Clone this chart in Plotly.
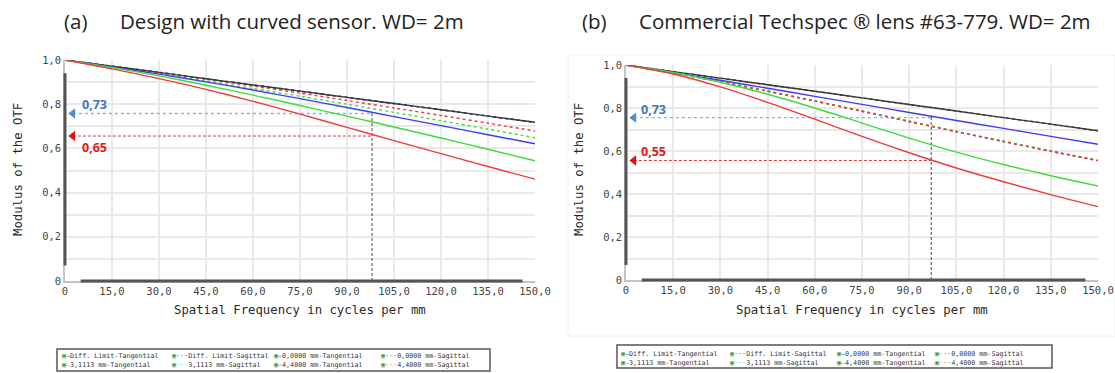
import plotly.graph_objects as go

W, H = 1115, 373

freq = [0, 15, 30, 45, 60, 75, 90, 105, 120, 135, 150]
x_tick_labels = ["0", "15,0", "30,0", "45,0", "60,0", "75,0", "90,0", "105,0", "120,0", "135,0", "150,0"]
y_tick_vals = [0, 0.2, 0.4, 0.6, 0.8, 1.0]
y_tick_labels = ["0", "0,2", "0,4", "0,6", "0,8", "1,0"]
y_minor_vals = [0.1, 0.3, 0.5, 0.7, 0.9]

series_names = ["Diff. Limit-Tangential", "Diff. Limit-Sagittal",
                "0,0000 mm-Tangential", "0,0000 mm-Sagittal",
                "3,1113 mm-Tangential", "3,1113 mm-Sagittal",
                "4,4000 mm-Tangential", "4,4000 mm-Sagittal"]

# Panel (a): design with curved sensor
a_dl_t = [1.0, 0.972, 0.944, 0.915, 0.887, 0.859, 0.831, 0.803, 0.775, 0.746, 0.718]
a_dl_s = [1.0, 0.972, 0.944, 0.915, 0.887, 0.859, 0.831, 0.803, 0.775, 0.746, 0.718]
a_f0_t = [1.0, 0.969, 0.936, 0.901, 0.864, 0.825, 0.785, 0.744, 0.703, 0.662, 0.621]
a_f0_s = [1.0, 0.972, 0.944, 0.915, 0.887, 0.859, 0.831, 0.803, 0.775, 0.746, 0.718]
a_f3_t = [1.0, 0.966, 0.928, 0.886, 0.841, 0.794, 0.746, 0.697, 0.647, 0.596, 0.544]
a_f3_s = [1.0, 0.970, 0.938, 0.905, 0.871, 0.836, 0.800, 0.763, 0.725, 0.687, 0.648]
a_f4_t = [1.0, 0.960, 0.916, 0.867, 0.813, 0.755, 0.695, 0.635, 0.576, 0.518, 0.461]
a_f4_s = [1.0, 0.972, 0.943, 0.913, 0.882, 0.850, 0.817, 0.783, 0.749, 0.714, 0.679]

# Panel (b): commercial lens
b_dl_t = [1.0, 0.969, 0.939, 0.908, 0.878, 0.847, 0.816, 0.786, 0.755, 0.725, 0.694]
b_dl_s = [1.0, 0.969, 0.939, 0.908, 0.878, 0.847, 0.816, 0.786, 0.755, 0.725, 0.694]
b_f0_t = [1.0, 0.964, 0.929, 0.892, 0.854, 0.817, 0.779, 0.742, 0.705, 0.668, 0.631]
b_f0_s = [1.0, 0.963, 0.922, 0.878, 0.832, 0.785, 0.737, 0.690, 0.644, 0.599, 0.555]
b_f3_t = [1.0, 0.965, 0.920, 0.864, 0.800, 0.730, 0.660, 0.595, 0.537, 0.485, 0.437]
b_f3_s = [1.0, 0.964, 0.924, 0.880, 0.834, 0.787, 0.739, 0.692, 0.646, 0.601, 0.557]
b_f4_t = [1.0, 0.958, 0.898, 0.826, 0.748, 0.668, 0.592, 0.521, 0.457, 0.397, 0.341]
b_f4_s = [1.0, 0.963, 0.922, 0.878, 0.832, 0.785, 0.737, 0.690, 0.644, 0.599, 0.555]

# Reading guides
a_cut_freq, a_blue_level, a_red_level = 98, 0.758, 0.656
b_cut_freq, b_blue_level, b_red_level = 97, 0.755, 0.556
arrow_freq = 2.5
a_labels = ["0,73", "0,65"]
b_labels = ["0,73", "0,55"]

# ---------------------------------------------------------------- styles
C_BLACK = "#3a3a3a"
C_BLUE = "#3c3cf0"
C_GREEN = "#3ddc3d"
C_RED = "#ee3b3b"
series_colors = [C_BLACK, C_BLACK, C_BLUE, C_BLUE, C_GREEN, C_GREEN, C_RED, C_RED]
series_dash = ["solid", "dot"] * 4
GUIDE_BLUE = "#86b3e2"
ARROW_BLUE = "#4f8fd0"
TEXT_BLUE = "#3b78c0"
GUIDE_RED = "#e63030"
TEXT_RED = "#e01a1a"
MONO = "DejaVu Sans Mono"

fig = go.Figure()

panels = [
    ("x", "y", [a_dl_t, a_dl_s, a_f0_t, a_f0_s, a_f3_t, a_f3_s, a_f4_t, a_f4_s],
     a_cut_freq, a_blue_level, a_red_level, a_labels, (9.3, 0.80), (9.3, 0.602)),
    ("x2", "y2", [b_dl_t, b_dl_s, b_f0_t, b_f0_s, b_f3_t, b_f3_s, b_f4_t, b_f4_s],
     b_cut_freq, b_blue_level, b_red_level, b_labels, (8.6, 0.792), (8.6, 0.60)),
]

for xa, ya, series, cut, blvl, rlvl, labels, bpos, rpos in panels:
    fig.add_trace(go.Scatter(x=[arrow_freq, cut], y=[blvl, blvl], mode="lines", xaxis=xa, yaxis=ya,
                             line=dict(color=GUIDE_BLUE, width=1.4, dash="dot"), showlegend=False,
                             hoverinfo="skip"))
    fig.add_trace(go.Scatter(x=[arrow_freq, cut], y=[rlvl, rlvl], mode="lines", xaxis=xa, yaxis=ya,
                             line=dict(color=GUIDE_RED, width=1.0, dash="3px,2px"), showlegend=False,
                             hoverinfo="skip"))
    fig.add_trace(go.Scatter(x=[cut, cut], y=[0, blvl + 0.005], mode="lines", xaxis=xa, yaxis=ya,
                             line=dict(color="#333333", width=0.9, dash="3px,2px"), showlegend=False,
                             hoverinfo="skip"))
    order = [1, 3, 5, 7, 0, 2, 4, 6]
    for i in order:
        fig.add_trace(go.Scatter(x=freq, y=series[i], mode="lines", xaxis=xa, yaxis=ya,
                                 name=series_names[i], showlegend=False,
                                 line=dict(color=series_colors[i], width=1.4, dash=series_dash[i],
                                           shape="spline", smoothing=0.8)))
    fig.add_trace(go.Scatter(x=[arrow_freq], y=[blvl], mode="markers", xaxis=xa, yaxis=ya,
                             marker=dict(symbol="triangle-left", size=9, color=ARROW_BLUE),
                             showlegend=False, hoverinfo="skip"))
    fig.add_trace(go.Scatter(x=[arrow_freq], y=[rlvl], mode="markers", xaxis=xa, yaxis=ya,
                             marker=dict(symbol="triangle-left", size=9, color="#e01010"),
                             showlegend=False, hoverinfo="skip"))
    fig.add_annotation(x=bpos[0], y=bpos[1], xref=xa, yref=ya, text="<b>" + labels[0] + "</b>",
                       showarrow=False, font=dict(family="Open Sans", size=12.5, color=TEXT_BLUE))
    fig.add_annotation(x=rpos[0], y=rpos[1], xref=xa, yref=ya, text="<b>" + labels[1] + "</b>",
                       showarrow=False, font=dict(family="Open Sans", size=12.5, color=TEXT_RED))

axis_common_x = dict(range=[0, 150], tickmode="array", tickvals=freq, ticktext=x_tick_labels,
                     showgrid=True, gridcolor="#e9e9e9", gridwidth=1.5, zeroline=False,
                     showline=True, linecolor="#c4c4c4", linewidth=1.5, ticks="", automargin=False,
                     tickfont=dict(family=MONO, size=10.5, color="#444"))
axis_common_y = dict(range=[0, 1], tickmode="array", tickvals=y_tick_vals, ticktext=y_tick_labels,
                     showgrid=True, gridcolor="#e9e9e9", gridwidth=1.5, zeroline=False,
                     showline=True, linecolor="#c4c4c4", linewidth=1.5, ticks="", automargin=False,
                     minor=dict(tickvals=y_minor_vals, showgrid=True, gridcolor="#e9e9e9", gridwidth=1.5),
                     tickfont=dict(family=MONO, size=10.5, color="#444"))

fig.update_layout(
    width=W, height=H, margin=dict(l=0, r=0, t=0, b=0, autoexpand=False),
    paper_bgcolor="white", plot_bgcolor="white", showlegend=False,
    xaxis=dict(domain=[65 / W, 535 / W], anchor="y", **axis_common_x),
    yaxis=dict(domain=[1 - 281 / H, 1 - 60 / H], anchor="x", **axis_common_y),
    xaxis2=dict(domain=[626 / W, 1098 / W], anchor="y2", **axis_common_x),
    yaxis2=dict(domain=[1 - 280 / H, 1 - 65 / H], anchor="x2", **axis_common_y),
)

# dark axis segments
for xa, ya in [("x", "y"), ("x2", "y2")]:
    fig.add_shape(type="line", xref=xa + " domain", yref=ya, x0=0, x1=0, y0=0.07, y1=0.94,
                  line=dict(color="#555555", width=3))
    fig.add_shape(type="line", xref=xa, yref=ya + " domain", x0=5, x1=146, y0=0, y1=0,
                  line=dict(color="#555555", width=3))

# faint frame of right image
fig.add_shape(type="rect", xref="paper", yref="paper", x0=568 / W, x1=1.0, y0=1 - 336 / H, y1=1 - 55 / H,
              line=dict(color="#f0f0f0", width=1), layer="below")

# axis titles
axis_title_font = dict(family=MONO, size=12.3, color="#2a2a2a")
for cx in [300, 862]:
    fig.add_annotation(x=cx / W, y=1 - 310 / H, xref="paper", yref="paper",
                       text="Spatial Frequency in cycles per mm", showarrow=False,
                       xanchor="center", yanchor="middle", font=axis_title_font)
for cx in [18, 579]:
    fig.add_annotation(x=cx / W, y=1 - 170 / H, xref="paper", yref="paper",
                       text="Modulus of the OTF", showarrow=False, textangle=-90,
                       xanchor="center", yanchor="middle", font=axis_title_font)

# titles
title_font = dict(family="Open Sans", size=20.5, color="#222")
for xpx, txt in [(62, "(a)"), (118, "Design with curved sensor. WD= 2m"),
                 (580, "(b)"), (637, "Commercial Techspec ® lens #63-779. WD= 2m")]:
    fig.add_annotation(x=xpx / W, y=1 - 21 / H, xref="paper", yref="paper", text=txt,
                       showarrow=False, xanchor="left", yanchor="middle", font=title_font)

# legends (text boxes)
legend_layouts = [
    dict(cols=[60, 170, 272, 379], rows=[355.7, 365.0], box=(57, 490, 349, 371)),
    dict(cols=[619, 728, 835, 933], rows=[354.0, 363.0], box=(617, 1052, 345, 368)),
]
for lay in legend_layouts:
    x0, x1, y0, y1 = lay["box"]
    fig.add_shape(type="rect", xref="paper", yref="paper", x0=x0 / W, x1=x1 / W,
                  y0=1 - y1 / H, y1=1 - y0 / H, line=dict(color="#555", width=1.5))
    for i, name in enumerate(series_names):
        col = lay["cols"][i % 4]
        row = lay["rows"][i // 4]
        sample = "—" if series_dash[i] == "solid" else "···"
        txt = ('<span style="color:#3f9a3f">▣</span><span style="color:%s">%s</span>%s'
               % (series_colors[i], sample, name))
        fig.add_annotation(x=col / W, y=1 - row / H, xref="paper", yref="paper", text=txt,
                           showarrow=False, xanchor="left", yanchor="middle",
                           font=dict(family=MONO, size=6.7, color="#333"))

fig.write_html("out.html", config={"displayModeBar": False},
               post_script="document.body.style.margin='0';document.body.style.overflow='hidden';")
